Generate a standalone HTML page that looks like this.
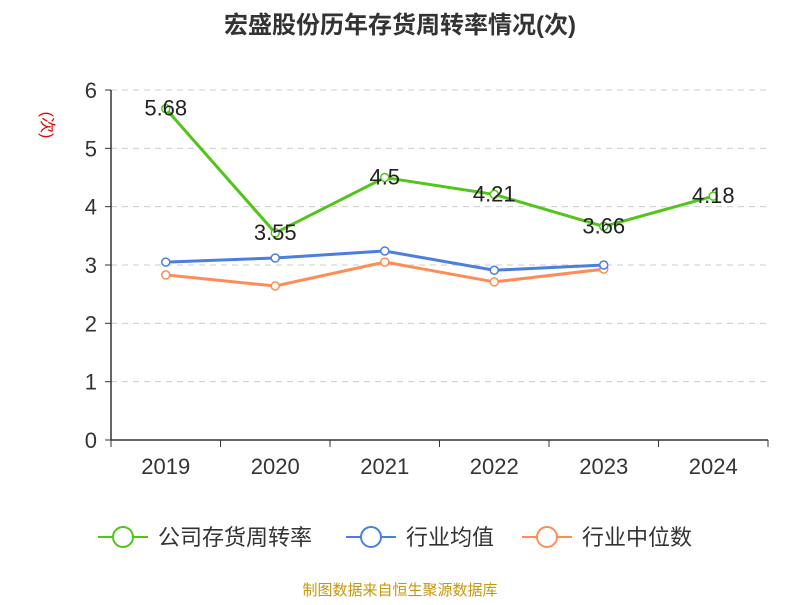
<!DOCTYPE html>
<html><head><meta charset="utf-8"><style>
body{margin:0;background:#fff}
svg text{font-family:"Liberation Sans","Noto Sans CJK SC",sans-serif}
</style></head><body>
<svg id="c" width="800" height="600" xmlns="http://www.w3.org/2000/svg">
<text x="400" y="33" text-anchor="middle" font-size="24" font-weight="bold" fill="#333">宏盛股份历年存货周转率情况(次)</text>
<text transform="translate(42,125) rotate(90)" text-anchor="middle" font-size="16" fill="#e00">(次)</text>
<g id="grid"></g><g id="axes"></g><g id="series"></g>
<g>
<g><line x1="98" y1="537" x2="148" y2="537" stroke="#52c41a" stroke-width="2"/><circle cx="123" cy="537" r="10" fill="#fff" stroke="#52c41a" stroke-width="2"/><text x="158" y="545" font-size="22" fill="#333">公司存货周转率</text></g>
<g><line x1="346" y1="537" x2="396" y2="537" stroke="#4a7fe0" stroke-width="2"/><circle cx="371" cy="537" r="10" fill="#fff" stroke="#4a7fe0" stroke-width="2"/><text x="406" y="545" font-size="22" fill="#333">行业均值</text></g>
<g><line x1="522" y1="537" x2="572" y2="537" stroke="#ff8c55" stroke-width="2"/><circle cx="547" cy="537" r="10" fill="#fff" stroke="#ff8c55" stroke-width="2"/><text x="582" y="545" font-size="22" fill="#333">行业中位数</text></g>
</g>
<text x="400" y="595" text-anchor="middle" font-size="15" fill="#c8960a">制图数据来自恒生聚源数据库</text>
</svg>
<script>
const categories=["2019","2020","2021","2022","2023","2024"];
const companyValues=[5.68,3.55,4.5,4.21,3.66,4.18];
const companyLabels=["5.68","3.55","4.5","4.21","3.66","4.18"];
const avgValues=[3.05,3.12,3.24,2.91,3.0];
const medianValues=[2.83,2.64,3.05,2.71,2.93];
const yTicks=[0,1,2,3,4,5,6];
const NS="http://www.w3.org/2000/svg";
const L=111,R=768,T=90,B=440,yMax=6;
const bw=(R-L)/categories.length;
const xs=i=>L+bw*(i+0.5);
const ys=v=>B-(v/yMax)*(B-T);
function mk(tag,attrs,parent){const e=document.createElementNS(NS,tag);for(const k in attrs)e.setAttribute(k,attrs[k]);document.getElementById(parent).appendChild(e);return e;}
yTicks.forEach(t=>{
 if(t>0){const g=mk('line',{x1:L,x2:R,y1:ys(t),y2:ys(t),stroke:'#ccc','stroke-dasharray':'6,5'},'grid');
 
 }
 const tk=mk('line',{x1:L-6,x2:L,y1:ys(t),y2:ys(t),stroke:'#333'},'axes');
 
 
 const tx=mk('text',{x:L-14,y:ys(t)+8,'text-anchor':'end','font-size':22,fill:'#333'},'axes');tx.textContent=t;
 
 
});
const ya=mk('line',{x1:L,x2:L,y1:T,y2:B,stroke:'#333','stroke-width':1.5},'axes');


const xa=mk('line',{x1:L,x2:R,y1:B,y2:B,stroke:'#333','stroke-width':1.5},'axes');


for(let i=0;i<=categories.length;i++){const tk=mk('line',{x1:L+bw*i,x2:L+bw*i,y1:B,y2:B+7,stroke:'#333'},'axes');
 
 }
categories.forEach((c,i)=>{const tx=mk('text',{x:xs(i),y:B+34,'text-anchor':'middle','font-size':22,fill:'#333'},'axes');tx.textContent=c;
 
 });
function series(vals,color,name){
 const p=mk('polyline',{points:vals.map((v,i)=>xs(i)+','+ys(v)).join(' '),fill:'none',stroke:color,'stroke-width':3},'series');
 
 
 vals.forEach((v,i)=>{const c=mk('circle',{cx:xs(i),cy:ys(v),r:4,fill:'#fff',stroke:color,'stroke-width':1.5},'series');
 
 });
}
series(medianValues,'#ff8c55','industry-median');
series(avgValues,'#4a7fe0','industry-avg');
series(companyValues,'#52c41a','company');
companyValues.forEach((v,i)=>{const tx=mk('text',{x:xs(i),y:ys(v)+7,'text-anchor':'middle','font-size':22,fill:'#222'},'series');tx.textContent=companyLabels[i];
 
 });
</script>
</body></html>
